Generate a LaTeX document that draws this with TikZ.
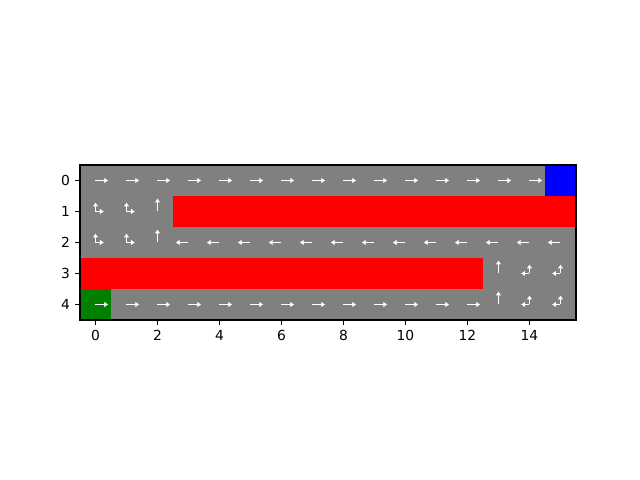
\documentclass[tikz,border=0pt]{standalone}
\usepackage{fontspec}
\setmainfont{DejaVu Sans}
\usetikzlibrary{arrows.meta}
\definecolor{cellGray}{RGB}{128,128,128}
\definecolor{cellRed}{RGB}{255,0,0}
\definecolor{cellBlue}{RGB}{0,0,255}
\definecolor{cellGreen}{RGB}{0,128,0}
% one quiver arrow from a cell centre
\newcommand{\PolicyArrow}[4]{\draw[policy] (#1,#2) -- ++(#3,#4);}

\begin{document}
\begin{tikzpicture}[x=0.7874cm,y=0.7874cm,>=Latex,
  policy/.style={white,line width=1.4pt,-{Latex[length=2.8pt,width=4.2pt]}},
  ticklabel/.style={inner sep=0pt,font=\fontsize{10}{12}\selectfont}]
  \useasboundingbox (-3.0806,5.8226) rectangle (17.565,-9.661);
  % cells
  \fill[cellGray] (-0.5,0.5) rectangle (15.5,-4.5);
  \fill[cellRed] (2.5,-0.5) rectangle (15.5,-1.5);
  \fill[cellRed] (-0.5,-2.5) rectangle (12.5,-3.5);
  \fill[cellBlue] (14.5,0.5) rectangle (15.5,-0.5);
  \fill[cellGreen] (-0.5,-3.5) rectangle (0.5,-4.5);
  % policy arrows
  \foreach \c in {0,...,14} {\PolicyArrow{\c}{0}{0.41}{0}}
  \foreach \r in {1,2} {
    \foreach \c in {0,1} {\PolicyArrow{\c}{-\r}{0}{0.29}\PolicyArrow{\c}{-\r}{0.27}{0}}
    \PolicyArrow{2}{-\r}{0}{0.42}}
  \foreach \c in {3,...,15} {\PolicyArrow{\c}{-2}{-0.41}{0}}
  \foreach \r in {3,4} {
    \PolicyArrow{13}{-\r}{0}{0.42}
    \foreach \c in {14,15} {\PolicyArrow{\c}{-\r}{0}{0.29}\PolicyArrow{\c}{-\r}{-0.27}{0}}}
  \foreach \c in {0,...,12} {\PolicyArrow{\c}{-4}{0.41}{0}}
  % frame and ticks
  \draw[line width=0.8pt] (-0.5,0.5) rectangle (15.5,-4.5);
  \foreach \t in {0,2,...,14} {
    \draw[line width=0.8pt] (\t,-4.5) -- ++(0,-3.5pt);
    \node[ticklabel,anchor=north] (xt\t) at ([yshift=-7pt]\t,-4.5) {\t};}
  \foreach \t in {0,...,4} {
    \draw[line width=0.8pt] (-0.5,-\t) -- ++(-3.5pt,0);
    \node[ticklabel,anchor=east] (yt\t) at ([xshift=-7pt]-0.5,-\t) {\t};}
\end{tikzpicture}
\end{document}
